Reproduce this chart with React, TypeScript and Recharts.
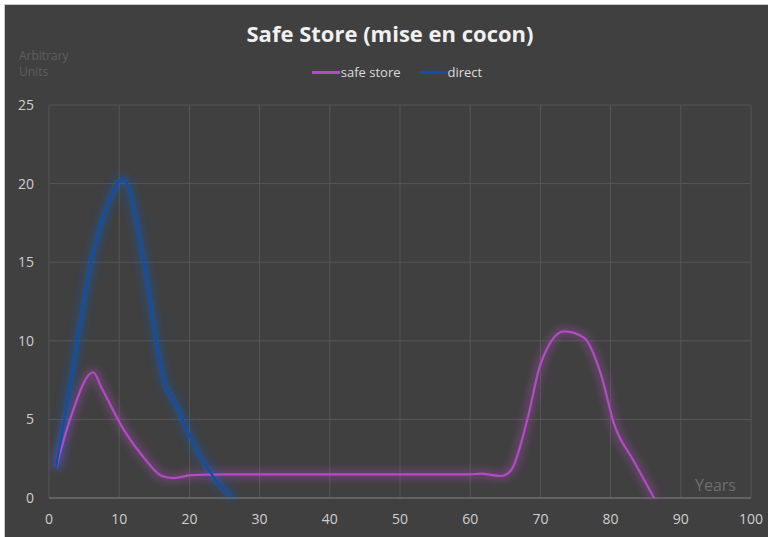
import React from 'react';
import { LineChart, Line, XAxis, YAxis, CartesianGrid } from 'recharts';

const xTicks = [0, 10, 20, 30, 40, 50, 60, 70, 80, 90, 100];
const yTicks = [0, 5, 10, 15, 20, 25];

const safeStoreYears = [1, 3, 6.3, 7.5, 10.7, 13.1, 16.4, 17.8, 20.2, 25, 35, 45, 55, 60, 61.5, 64.4, 65.8, 68.2, 70, 73.4, 76.2, 78.6, 80.5, 83.3, 86.2];
const safeStoreValues = [1.9, 5.0, 8.0, 7.0, 4.3, 2.8, 1.35, 1.27, 1.45, 1.5, 1.5, 1.5, 1.5, 1.5, 1.55, 1.4, 1.75, 5.1, 8.5, 10.6, 10.2, 7.9, 4.7, 2.35, 0];

const directYears = [1, 3.1, 6, 8.5, 10.5, 13.5, 15.5, 16.4, 17.8, 20.2, 23.5, 26.2];
const directValues = [1.9, 7.4, 15, 18.8, 20.3, 15, 9.4, 7.4, 6.2, 3.8, 1.3, 0];

const safeStore = safeStoreYears.map((x, i) => ({ x, y: safeStoreValues[i] }));
const direct = directYears.map((x, i) => ({ x, y: directValues[i] }));

const PURPLE = '#b24cc2';
const BLUE = '#0a50ae';

const series = [
  { name: 'safe store', color: PURPLE },
  { name: 'direct', color: BLUE },
];

const renderLegend = () => (
  <div
    style={{
      position: 'absolute',
      top: 58,
      left: 10,
      width: 764,
      display: 'flex',
      justifyContent: 'center',
      gap: 18,
      fontSize: 13,
      color: '#dcdcdc',
    }}
  >
    {series.map((s) => (
      <div key={s.name} style={{ display: 'flex', alignItems: 'center' }}>
        <div style={{ width: 28, height: 3, background: s.color, marginRight: 1 }} />
        <span>{s.name}</span>
      </div>
    ))}
  </div>
);

export default function App() {
  return (
    <div
      style={{
        position: 'absolute',
        left: 4,
        top: 4,
        width: 764,
        height: 533,
        background: '#404040',
        borderTop: '1px solid #c8c8c8',
        borderLeft: '1px solid #c8c8c8',
        fontFamily: '"Open Sans", "Noto Sans", sans-serif',
        overflow: 'hidden',
      }}
    >
      <div
        style={{
          position: 'absolute',
          top: 13,
          left: 0,
          width: 770,
          textAlign: 'center',
          fontSize: 22,
          fontWeight: 700,
          color: '#f0f0f0',
        }}
      >
        Safe Store (mise en cocon)
      </div>
      <div style={{ position: 'absolute', left: 14, top: 43, fontSize: 12, lineHeight: '16px', color: '#5e5e5e' }}>
        <div>Arbitrary</div>
        <div>Units</div>
      </div>
      {renderLegend()}
      <LineChart width={764} height={533} margin={{ top: 100, right: 18, bottom: 10, left: 0 }}>
        <defs>
          <filter id="glow" x="-20%" y="-20%" width="140%" height="140%">
            <feGaussianBlur stdDeviation="4" />
          </filter>
        </defs>
        <CartesianGrid stroke="#555555" strokeWidth={1} />
        <XAxis
          type="number"
          dataKey="x"
          domain={[0, 100]}
          ticks={xTicks}
          height={30}
          tickSize={0}
          tickMargin={16}
          axisLine={{ stroke: '#7a7a7a' }}
          tick={{ fill: '#cfcfcf', fontSize: 14 }}
          allowDuplicatedCategory={false}
        />
        <YAxis
          type="number"
          domain={[0, 25]}
          ticks={yTicks}
          width={44}
          tickSize={0}
          tickMargin={15}
          axisLine={false}
          tick={{ fill: '#cfcfcf', fontSize: 14 }}
        />
        <Line data={safeStore} dataKey="y" type="monotone" stroke={PURPLE} strokeOpacity={0.45} strokeWidth={7} filter="url(#glow)" dot={false} activeDot={false} legendType="none" isAnimationActive={false} />
        <Line data={direct} dataKey="y" type="monotone" stroke="#1560d0" strokeOpacity={0.5} strokeWidth={7} filter="url(#glow)" dot={false} activeDot={false} legendType="none" isAnimationActive={false} />
        <Line data={safeStore} dataKey="y" name="safe store" type="monotone" stroke={PURPLE} strokeWidth={2.2} dot={false} isAnimationActive={false} />
        <Line data={direct} dataKey="y" name="direct" type="monotone" stroke={BLUE} strokeWidth={2.2} dot={false} isAnimationActive={false} />
      </LineChart>
      <div style={{ position: 'absolute', left: 690, top: 469, fontSize: 16, color: '#6e6e6e' }}>Years</div>
    </div>
  );
}
